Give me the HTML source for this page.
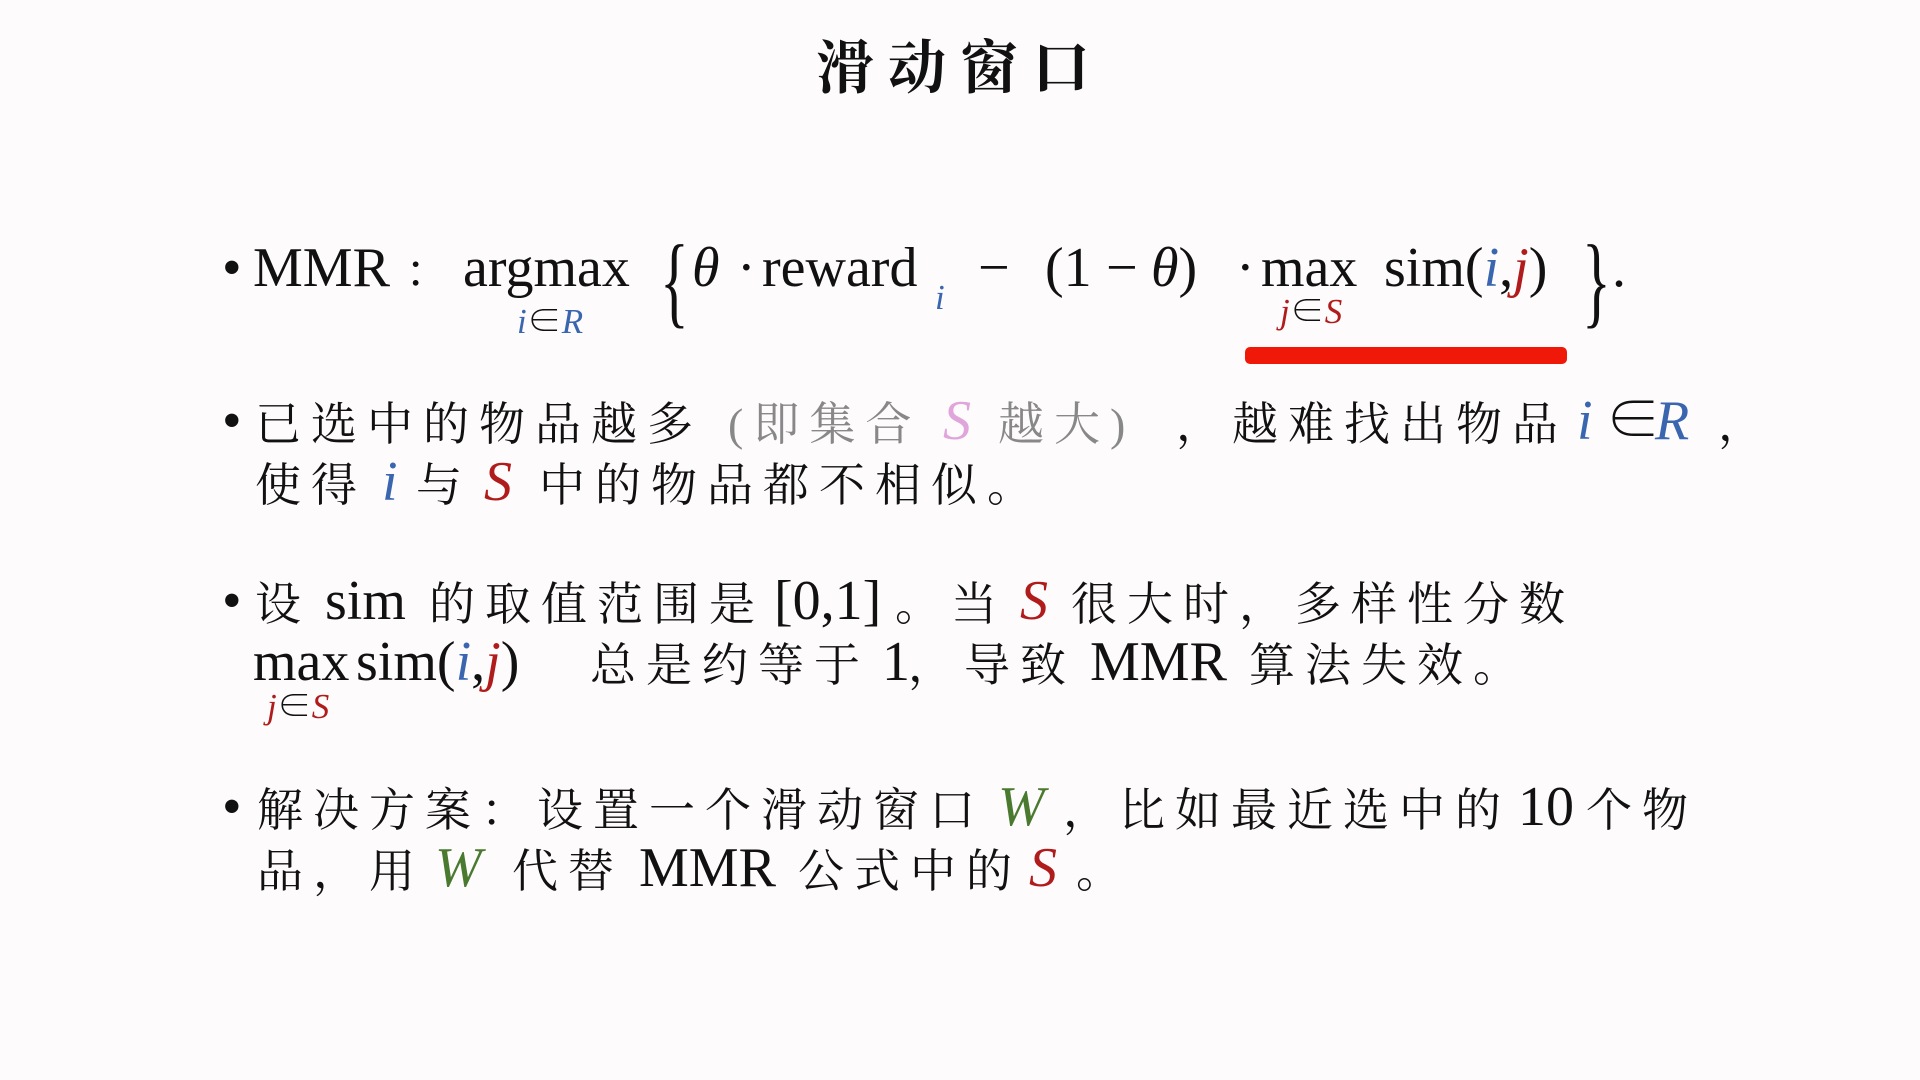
<!DOCTYPE html>
<html><head><meta charset="utf-8"><style>
html,body{margin:0;padding:0}
body{width:1920px;height:1080px;background:#fdfbfc;position:relative;overflow:hidden;
font-family:"Liberation Serif","Noto Serif CJK SC",serif;color:#111}
.t{position:absolute;white-space:nowrap;line-height:1}
.c{font-size:46px;letter-spacing:10px;top:-23px}
.l{font-size:56px;top:-32px}
.s{font-size:35px;font-style:italic}
.b{color:#3a66b0}.r{color:#b01c1c}.g{color:#4a7a30}.p{color:#e0a6dc}.gr{color:#888}
.i{font-style:italic}
.row{position:absolute;left:0;width:1920px;height:0}
</style></head><body>
<div class="t" style="left:0;width:1920px;text-align:center;top:34px;font-size:58px;font-weight:bold;letter-spacing:14px;font-family:'Noto Serif CJK SC',serif">滑动窗口</div>

<!-- line 1 -->
<div class="row" style="top:272px">
<span class="t l" style="left:222px">•</span>
<span class="t l" style="left:253px">MMR</span>
<span class="t c" style="left:405px">：</span>
<span class="t l" style="left:463px">argmax</span>
<span class="t s" style="left:517px;top:32px"><span class="b">i</span><span style="font-style:normal">∈</span><span class="b">R</span></span>
<span class="t" style="left:660px;top:-42px;font-size:60px;transform:scaleY(1.7);transform-origin:top">{</span>
<span class="t l i" style="left:692px">θ</span>
<span class="t l" style="left:737px">·</span>
<span class="t l" style="left:762px">reward</span>
<span class="t s b" style="left:935px;top:8px">i</span>
<span class="t l" style="left:978px">−</span>
<span class="t l" style="left:1045px">(1</span>
<span class="t l" style="left:1106px">−</span>
<span class="t l" style="left:1151px"><i>θ</i>)</span>
<span class="t l" style="left:1236px">·</span>
<span class="t l" style="left:1261px">max</span>
<span class="t s" style="left:1280px;top:22px"><span class="r">j</span><span style="font-style:normal">∈</span><span class="r">S</span></span>
<span class="t l" style="left:1384px">sim(<i class="b">i</i>,<i class="r">j</i>)</span>
<span class="t" style="left:1582px;top:-42px;font-size:60px;transform:scaleY(1.7);transform-origin:top">}</span>
<span class="t l" style="left:1612px">.</span>
</div>
<div style="position:absolute;left:1245px;top:347px;width:322px;height:17px;background:#f01808;border-radius:5px"></div>

<!-- line 2 -->
<div class="row" style="top:425px">
<span class="t l" style="left:222px">•</span>
<span class="t c" style="left:255px">已选中的物品越多</span>
<span class="t c gr" style="left:728px">(即集合</span>
<span class="t l i p" style="left:943px">S</span>
<span class="t c gr" style="left:998px">越大)</span>
<span class="t c" style="left:1176px">，越难找出物品</span>
<span class="t l i b" style="left:1577px">i</span>
<span class="t l" style="left:1605px">∈</span>
<span class="t l i b" style="left:1655px">R</span>
<span class="t c" style="left:1718px">，</span>
</div>
<!-- line 3 -->
<div class="row" style="top:486px">
<span class="t c" style="left:255px">使得</span>
<span class="t l i b" style="left:382px">i</span>
<span class="t c" style="left:416px">与</span>
<span class="t l i r" style="left:484px">S</span>
<span class="t c" style="left:539px">中的物品都不相似。</span>
</div>
<!-- line 4 -->
<div class="row" style="top:605px">
<span class="t l" style="left:222px">•</span>
<span class="t c" style="left:255px">设</span>
<span class="t l" style="left:325px">sim</span>
<span class="t c" style="left:429px">的取值范围是</span>
<span class="t l" style="left:774px">[0,1]</span>
<span class="t c" style="left:895px">。当</span>
<span class="t l i r" style="left:1020px">S</span>
<span class="t c" style="left:1071px">很大时，多样性分数</span>
</div>
<!-- line 5 -->
<div class="row" style="top:666px">
<span class="t l" style="left:253px">max</span>
<span class="t l" style="left:356px">sim(<i class="b">i</i>,<i class="r">j</i>)</span>
<span class="t s" style="left:267px;top:23px"><span class="r">j</span><span style="font-style:normal">∈</span><span class="r">S</span></span>
<span class="t c" style="left:590px">总是约等于</span>
<span class="t l" style="left:882px">1</span>
<span class="t c" style="left:908px">，导致</span>
<span class="t l" style="left:1090px">MMR</span>
<span class="t c" style="left:1249px">算法失效。</span>
</div>
<!-- line 6 -->
<div class="row" style="top:811px">
<span class="t l" style="left:222px">•</span>
<span class="t c" style="left:257px">解决方案：设置一个滑动窗口</span>
<span class="t l i g" style="left:998px">W</span>
<span class="t c" style="left:1063px">，比如最近选中的</span>
<span class="t l" style="left:1518px">10</span>
<span class="t c" style="left:1586px">个物</span>
</div>
<!-- line 7 -->
<div class="row" style="top:872px">
<span class="t c" style="left:257px">品，用</span>
<span class="t l i g" style="left:435px">W</span>
<span class="t c" style="left:512px">代替</span>
<span class="t l" style="left:639px">MMR</span>
<span class="t c" style="left:798px">公式中的</span>
<span class="t l i r" style="left:1029px">S</span>
<span class="t c" style="left:1076px">。</span>
</div>
</body></html>
